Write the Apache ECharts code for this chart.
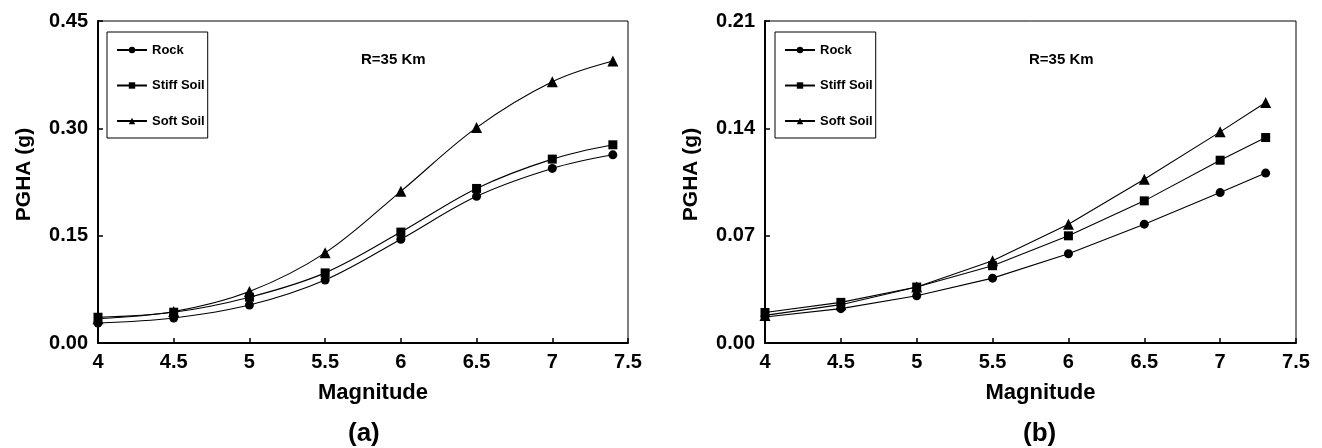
<!DOCTYPE html>
<html>
<head>
<meta charset="utf-8">
<script src="https://cdn.jsdelivr.net/npm/echarts@6/dist/echarts.min.js"></script>
<style>
  html, body { margin: 0; padding: 0; background: #fff; }
  #chart { width: 1322px; height: 448px; }
</style>
</head>
<body>
<div id="chart"></div>
<script>
// Magnitude values for each panel
const magA = [4, 4.5, 5, 5.5, 6, 6.5, 7, 7.4];
const magB = [4, 4.5, 5, 5.5, 6, 6.5, 7, 7.3];

// Panel (a): PGHA (g) per site class
const rockA  = [0.028, 0.035, 0.053, 0.088, 0.145, 0.205, 0.244, 0.263];
const stiffA = [0.036, 0.043, 0.064, 0.098, 0.155, 0.216, 0.257, 0.277];
const softA  = [0.034, 0.044, 0.072, 0.126, 0.212, 0.301, 0.365, 0.394];

// Panel (b): PGHA (g) per site class
const rockB  = [0.0170, 0.0224, 0.0308, 0.0423, 0.0582, 0.0775, 0.0981, 0.1108];
const stiffB = [0.0199, 0.0265, 0.0365, 0.0504, 0.0699, 0.0927, 0.1192, 0.1340];
const softB  = [0.0180, 0.0250, 0.0365, 0.0536, 0.0775, 0.1068, 0.1377, 0.1568];

const seriesNames = ['Rock', 'Stiff Soil', 'Soft Soil'];
const symbols = ['circle', 'rect', 'triangle'];
const symbolSizes = [9, 9, 11];

const yMaxA = 0.45, yStepA = 0.15;
const yMaxB = 0.21, yStepB = 0.07;

const FONT = '"Liberation Sans", Arial, sans-serif';

function pairs(xs, ys) { return xs.map((x, i) => [x, ys[i]]); }

function xAxis(gridIndex) {
  return {
    type: 'value', gridIndex, min: 4, max: 7.5, interval: 0.5,
    name: 'Magnitude', nameLocation: 'middle', nameGap: 39,
    nameTextStyle: { fontFamily: FONT, fontWeight: 'bold', fontSize: 22, color: '#000', padding: [0, 0, 0, 20] },
    axisLine: { show: true, lineStyle: { color: '#000', width: 2 } },
    axisTick: { show: true, inside: true, length: 5, lineStyle: { color: '#000', width: 1.5 } },
    axisLabel: { fontFamily: FONT, fontWeight: 'bold', fontSize: 20, color: '#000', margin: 9 },
    splitLine: { show: false }
  };
}

function yAxis(gridIndex, max, step) {
  return {
    type: 'value', gridIndex, min: 0, max, interval: step,
    name: 'PGHA (g)', nameLocation: 'middle', nameGap: 63, nameRotate: 90,
    nameTextStyle: { fontFamily: FONT, fontWeight: 'bold', fontSize: 21, color: '#000', padding: [0, 0, 0, 15] },
    axisLine: { show: true, lineStyle: { color: '#000', width: 2 } },
    axisTick: { show: true, inside: true, length: 5, lineStyle: { color: '#000', width: 1.5 } },
    axisLabel: { fontFamily: FONT, fontWeight: 'bold', fontSize: 20, color: '#000', margin: 10,
                 formatter: v => v.toFixed(2) },
    splitLine: { show: false }
  };
}

function lineSeries(idx, data, i, smooth) {
  return {
    type: 'line', name: seriesNames[i], xAxisIndex: idx, yAxisIndex: idx,
    data, smooth, symbol: symbols[i], symbolSize: symbolSizes[i], showSymbol: true,
    lineStyle: { color: '#000', width: 1.1 },
    itemStyle: { color: '#000', borderColor: '#000', borderWidth: 0 },
    emphasis: { disabled: true }, animation: false
  };
}

function legend(left) {
  return {
    orient: 'vertical', left, top: 32,
    data: seriesNames,
    itemWidth: 30, itemHeight: 8, itemGap: 21.5,
    padding: [11, 3, 10, 9],
    borderColor: '#000', borderWidth: 1,
    textStyle: { fontFamily: FONT, fontWeight: 'bold', fontSize: 13, lineHeight: 14, color: '#000' },
    selectedMode: false
  };
}

const labelStyle = size => ({ fontFamily: FONT, fontWeight: 'bold', fontSize: size, color: '#000' });

const chart = echarts.init(document.getElementById('chart'), null, { renderer: 'canvas' });
chart.setOption({
  backgroundColor: '#fff',
  animation: false,
  grid: [
    { left: 98, right: 694, top: 21, bottom: 105, show: true, borderColor: '#000', borderWidth: 1 },
    { left: 765, right: 26, top: 21, bottom: 105, show: true, borderColor: '#000', borderWidth: 1 }
  ],
  xAxis: [xAxis(0), xAxis(1)],
  yAxis: [yAxis(0, yMaxA, yStepA), yAxis(1, yMaxB, yStepB)],
  legend: [legend(107), legend(775)],
  title: [
    { text: 'R=35 Km', left: 361, top: 52, padding: 0, textStyle: labelStyle(15) },
    { text: 'R=35 Km', left: 1029, top: 52, padding: 0, textStyle: labelStyle(15) },
    { text: '(a)', left: 348, top: 421, padding: 0, textStyle: labelStyle(26) },
    { text: '(b)', left: 1023, top: 421, padding: 0, textStyle: labelStyle(26) }
  ],
  series: [
    lineSeries(0, pairs(magA, rockA), 0, 0.35),
    lineSeries(0, pairs(magA, stiffA), 1, 0.35),
    lineSeries(0, pairs(magA, softA), 2, 0.35),
    lineSeries(1, pairs(magB, rockB), 0, false),
    lineSeries(1, pairs(magB, stiffB), 1, false),
    lineSeries(1, pairs(magB, softB), 2, false)
  ]
});
</script>
</body>
</html>
